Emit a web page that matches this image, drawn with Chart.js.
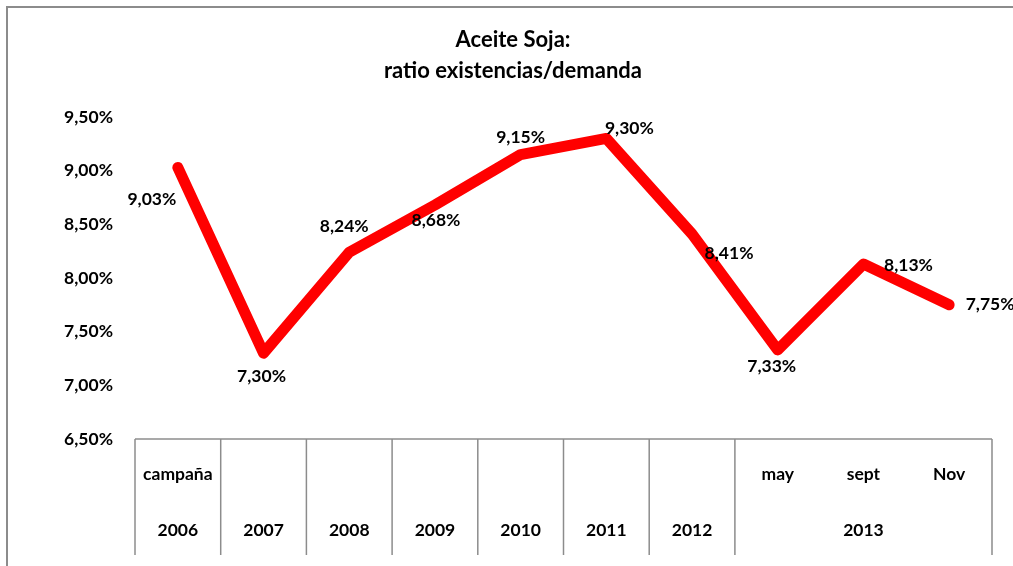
<!DOCTYPE html>
<html>
<head>
<meta charset="utf-8">
<script src="https://cdn.jsdelivr.net/npm/chart.js@4.4.0/dist/chart.umd.min.js"></script>
<style>
  html, body { margin: 0; padding: 0; background: #fff; }
  canvas { display: block; }
</style>
</head>
<body>
<canvas id="chart" width="1013" height="566"></canvas>
<script>
// values
const titleLines = ['Aceite Soja:', 'ratio existencias/demanda'];
const periodLabels = ['campaña', '', '', '', '', '', '', 'may', 'sept', 'Nov'];
const yearLabels = ['2006', '2007', '2008', '2009', '2010', '2011', '2012', '2013', '2013', '2013'];
const ratio = [9.03, 7.30, 8.24, 8.68, 9.15, 9.30, 8.41, 7.33, 8.13, 7.75];
const yMin = 6.5, yMax = 9.5, yStep = 0.5;

// label placement relative to each point (dx, dy in px)
const labelOffsets = [[-26, 32], [-2, 23], [-5, -26], [1, 15], [0, -17], [23, -10], [37, 19], [-6, 16], [45, 1], [41, 0]];

const FONT = 'Lato, "Open Sans", sans-serif';
const LABEL_SIZE = 17.5;
const fmt = v => v.toFixed(2).replace('.', ',') + '%';

// outer frame + title (the original chart is cropped on the right and bottom)
const framePlugin = {
  id: 'frame',
  beforeDraw(chart) {
    const ctx = chart.ctx;
    ctx.save();
    ctx.fillStyle = '#fff';
    ctx.fillRect(0, 0, chart.width, chart.height);
    ctx.strokeStyle = '#8c8c8c';
    ctx.lineWidth = 2;
    ctx.strokeRect(7, 7, chart.width + 20, chart.height + 20);
    ctx.font = 'bold 22px ' + FONT;
    ctx.fillStyle = '#000';
    ctx.textAlign = 'center';
    ctx.textBaseline = 'middle';
    titleLines.forEach((t, i) => ctx.fillText(t, 513, 40 + i * 31));
    ctx.restore();
  }
};

const categoryTable = {
  id: 'categoryTable',
  afterDraw(chart) {
    const ctx = chart.ctx;
    const x = chart.scales.x;
    const area = chart.chartArea;
    const band = (x.getPixelForValue(1) - x.getPixelForValue(0));
    const top = area.bottom;
    const bottom = x.bottom;
    ctx.save();
    ctx.strokeStyle = '#8c8c8c';
    ctx.lineWidth = 1.5;
    ctx.beginPath();
    ctx.moveTo(area.left, top);
    ctx.lineTo(area.right, top);
    ctx.stroke();

    ctx.font = 'bold ' + LABEL_SIZE + 'px ' + FONT;
    ctx.fillStyle = '#000';
    ctx.textAlign = 'center';
    ctx.textBaseline = 'middle';

    let start = 0;
    for (let i = 0; i <= yearLabels.length; i++) {
      if (i === yearLabels.length || yearLabels[i] !== yearLabels[start]) {
        const left = x.getPixelForValue(start) - band / 2;
        const right = x.getPixelForValue(i - 1) + band / 2;
        ctx.beginPath();
        ctx.moveTo(left, top);
        ctx.lineTo(left, bottom);
        if (i === yearLabels.length) {
          ctx.moveTo(right, top);
          ctx.lineTo(right, bottom);
        }
        ctx.stroke();
        ctx.fillText(yearLabels[start], (left + right) / 2, top + 91);
        start = i;
      }
    }
    periodLabels.forEach((p, i) => {
      if (p) ctx.fillText(p, x.getPixelForValue(i), top + 35);
    });
    ctx.restore();
  }
};

const valueLabels = {
  id: 'valueLabels',
  afterDatasetsDraw(chart) {
    const ctx = chart.ctx;
    const meta = chart.getDatasetMeta(0);
    ctx.save();
    ctx.font = 'bold ' + LABEL_SIZE + 'px ' + FONT;
    ctx.fillStyle = '#000';
    ctx.textAlign = 'center';
    ctx.textBaseline = 'middle';
    meta.data.forEach((pt, i) => {
      const [dx, dy] = labelOffsets[i];
      ctx.fillText(fmt(ratio[i]), pt.x + dx, pt.y + dy);
    });
    ctx.restore();
  }
};

new Chart(document.getElementById('chart'), {
  type: 'line',
  data: {
    labels: yearLabels.map((y, i) => (periodLabels[i] + ' ' + y).trim()),
    datasets: [{
      data: ratio,
      borderColor: '#ff0000',
      borderWidth: 11,
      borderCapStyle: 'round',
      borderJoinStyle: 'round',
      pointRadius: 0,
      tension: 0,
      fill: false
    }]
  },
  options: {
    responsive: false,
    animation: false,
    layout: { padding: { left: 0, right: 21, top: 117, bottom: 11 } },
    plugins: {
      legend: { display: false },
      tooltip: { enabled: false },
      title: { display: false }
    },
    scales: {
      x: {
        type: 'category',
        offset: true,
        grid: { display: false, drawTicks: false },
        border: { display: false },
        ticks: { display: false },
        afterFit: s => { s.height = 116; }
      },
      y: {
        min: yMin,
        max: yMax,
        grid: { display: false, drawTicks: false },
        border: { display: false },
        ticks: {
          stepSize: yStep,
          padding: 22,
          color: '#000',
          font: { family: FONT, size: LABEL_SIZE, weight: 'bold' },
          callback: v => fmt(v)
        },
        afterFit: s => { s.width = 135; }
      }
    }
  },
  plugins: [framePlugin, categoryTable, valueLabels]
});
</script>
</body>
</html>
